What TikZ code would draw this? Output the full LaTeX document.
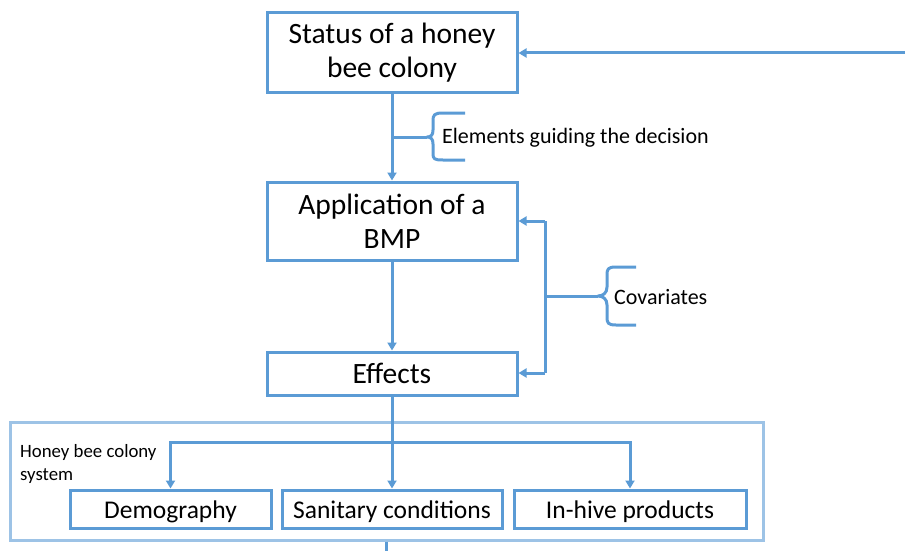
\documentclass[tikz,border=0pt]{standalone}
\usepackage{fontspec}
\setmainfont{Carlito}
\usetikzlibrary{arrows.meta,positioning}
\definecolor{bl}{HTML}{5B9BD5}
\definecolor{lbl}{HTML}{9DC3E6}
\begin{document}
\begin{tikzpicture}[x=1pt,y=-1pt,
  box/.style={draw=bl,line width=3pt,fill=white,align=center,inner sep=0pt,font=\fontsize{29.5}{34}\selectfont},
  sbox/.style={draw=bl,line width=3pt,fill=white,align=center,inner sep=0pt,minimum height=38pt,text height=18pt,text depth=0pt,font=\fontsize{25.5}{28}\selectfont},
  conn/.style={draw=bl,line width=3pt},
  arr/.style={conn,-{Triangle[length=8pt,width=9pt]}},
  lbl/.style={font=\fontsize{22}{26}\selectfont,anchor=west,inner sep=0pt},
  brc/.style={draw=bl,line width=3pt,line join=round}]
\useasboundingbox (0,0) rectangle (905,551);
% outer system box
\node[draw=lbl,line width=3pt,minimum width=753pt,minimum height=118pt,inner sep=0pt] (sys) at (386.5,481) {};
\node[font=\fontsize{18.8}{23}\selectfont,align=left,anchor=north west,inner sep=0pt] (syslbl) at (20,444) {Honey bee colony\\system};
% main boxes
\node[box,minimum width=250pt,minimum height=79pt] (status) at (392,52.5) {Status of a honey\\bee colony};
\node[box,minimum width=250pt,minimum height=78pt] (bmp) at (392,221) {Application of a\\BMP};
\node[box,minimum width=250pt,minimum height=43pt,text height=21pt,text depth=2pt] (eff) at (392,373.5) {Effects};
% bottom boxes
\node[sbox,minimum width=201pt] (demo) at (170.5,509) {Demography};
\node[sbox,minimum width=220pt] (sani) at (392,509) {Sanitary conditions};
\node[sbox,minimum width=232pt] (hive) at (630,509) {In-hive products};
% arrows
\draw[arr] (status.south) -- (bmp.north);
\draw[arr] (bmp.south) -- (eff.north);
\coordinate (fbin) at (905,53);
\draw[arr] (fbin) -- (status.east |- fbin);
% elements brace
\coordinate (b1) at (393,137);
\coordinate (b1tip) at (427,137);
\draw[conn] (b1) -- (b1tip);
\draw[brc] (465,113) -- (443,113) .. controls (434,113) and (433,115) .. (433,121) -- (433,130)
  .. controls (433,135) and (431,137) .. (b1tip)
  .. controls (431,137) and (433,139) .. (433,144) -- (433,153)
  .. controls (433,159) and (434,160) .. (443,160) -- (465,160);
\node[lbl] (elem) at (442,138) {Elements guiding the decision};
% covariates
\coordinate (cv) at (545,296);
\coordinate (cvtop) at (545,221);
\coordinate (cvbot) at (545,373);
\draw[conn] (cvtop) -- (cvbot);
\draw[arr] (cvtop) -- (bmp.east |- cvtop);
\draw[arr] (cvbot) -- (eff.east |- cvbot);
\coordinate (cvtip) at (598,296);
\draw[conn] (cv) -- (cvtip);
\draw[brc] (636,267) -- (616,267) .. controls (608,267) and (607,269) .. (607,275) -- (607,287)
  .. controls (607,293) and (603,296) .. (cvtip)
  .. controls (603,296) and (607,299) .. (607,305) -- (607,317)
  .. controls (607,323) and (608,325) .. (616,325) -- (636,325);
\node[lbl] (cov) at (614,297) {Covariates};
% effects to system
\coordinate (split) at (392,442);
\draw[arr] (eff.south) -- (sani.north);
\draw[arr] (split) -| (demo.north);
\draw[arr] (split) -| (hive.north);
% line leaving bottom
\coordinate (out2) at (386,551);
\coordinate (out1) at (sys.south -| out2);
\draw[conn] (out1) -- (out2);
\end{tikzpicture}
\end{document}
